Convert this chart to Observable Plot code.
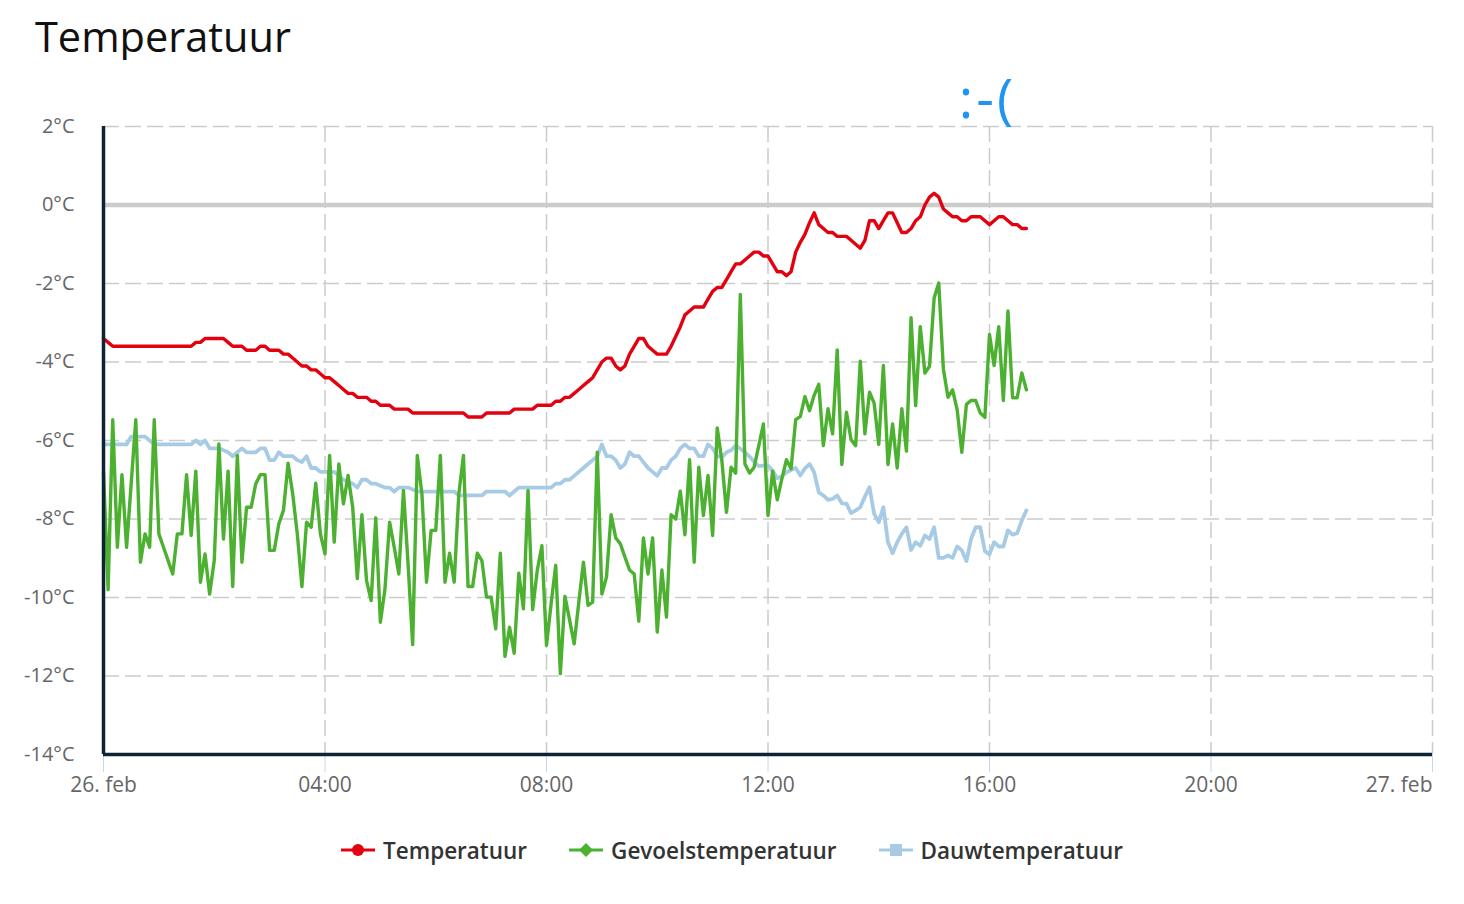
<!DOCTYPE html>
<html>
<head>
<meta charset="utf-8">
<script src="https://cdn.jsdelivr.net/npm/d3@7"></script>
<script src="https://cdn.jsdelivr.net/npm/@observablehq/plot@0.6"></script>
<style>
  html, body { margin: 0; padding: 0; background: #fff; overflow: hidden; }
  body { width: 1464px; height: 904px; position: relative; font-family: "Open Sans", Lato, sans-serif; }
  #title { position: absolute; left: 35px; top: 16px; font-size: 41.5px; line-height: 1; color: #111; font-weight: 400; }
  #chart { position: absolute; left: 0; top: 60px; }
  #legend { position: absolute; left: 0; top: 836px; width: 1464px; height: 28px; display: flex; justify-content: center; align-items: center; gap: 42px; }
  #legend .item { display: flex; align-items: center; gap: 8px; font-size: 22.5px; font-weight: 600; color: #333; }
  #legend svg { display: block; }
</style>
</head>
<body>
<div id="title">Temperatuur</div>
<div id="chart"></div>
<div id="legend"></div>
<script>
// ---- data (5-minute readings from 26 feb 00:00) ----
const seriesNames = ["Temperatuur", "Gevoelstemperatuur", "Dauwtemperatuur"];
const seriesColors = ["#e3000f", "#4cb030", "#a8cbe5"];

const temperatuur = [
  -3.4,-3.5,-3.6,-3.6,-3.6,-3.6,-3.6,-3.6,-3.6,-3.6,-3.6,-3.6,
  -3.6,-3.6,-3.6,-3.6,-3.6,-3.6,-3.6,-3.6,-3.5,-3.5,-3.4,-3.4,
  -3.4,-3.4,-3.4,-3.5,-3.6,-3.6,-3.6,-3.7,-3.7,-3.7,-3.6,-3.6,
  -3.7,-3.7,-3.7,-3.8,-3.8,-3.9,-4.0,-4.1,-4.1,-4.2,-4.2,-4.3,
  -4.4,-4.4,-4.5,-4.6,-4.7,-4.8,-4.8,-4.9,-4.9,-4.9,-5.0,-5.0,
  -5.1,-5.1,-5.1,-5.2,-5.2,-5.2,-5.2,-5.3,-5.3,-5.3,-5.3,-5.3,
  -5.3,-5.3,-5.3,-5.3,-5.3,-5.3,-5.3,-5.4,-5.4,-5.4,-5.4,-5.3,
  -5.3,-5.3,-5.3,-5.3,-5.3,-5.2,-5.2,-5.2,-5.2,-5.2,-5.1,-5.1,
  -5.1,-5.1,-5.0,-5.0,-4.9,-4.9,-4.8,-4.7,-4.6,-4.5,-4.4,-4.2,
  -4.0,-3.9,-3.9,-4.1,-4.2,-4.1,-3.8,-3.6,-3.4,-3.4,-3.6,-3.7,
  -3.8,-3.8,-3.8,-3.6,-3.35,-3.1,-2.8,-2.7,-2.6,-2.6,-2.6,-2.4,
  -2.2,-2.1,-2.1,-1.9,-1.7,-1.5,-1.5,-1.4,-1.3,-1.2,-1.2,-1.3,
  -1.3,-1.5,-1.7,-1.7,-1.8,-1.7,-1.2,-0.95,-0.75,-0.45,-0.2,-0.5,
  -0.6,-0.7,-0.7,-0.8,-0.8,-0.8,-0.9,-1.0,-1.1,-0.9,-0.4,-0.4,
  -0.6,-0.4,-0.2,-0.2,-0.45,-0.7,-0.7,-0.6,-0.4,-0.3,0.0,0.2,
  0.3,0.2,-0.1,-0.2,-0.3,-0.3,-0.4,-0.4,-0.3,-0.3,-0.3,-0.4,
  -0.5,-0.4,-0.3,-0.3,-0.4,-0.5,-0.5,-0.6,-0.6
];

const gevoelstemperatuur = [
  -6.8,-9.8,-5.47,-8.72,-6.87,-8.72,-7.1,-5.47,-9.1,-8.38,-8.72,-5.47,
  -8.38,-8.72,-9.06,-9.4,-8.38,-8.38,-6.87,-8.42,-6.78,-9.61,-8.89,-9.91,
  -9.06,-6.09,-8.51,-6.78,-9.72,-6.38,-9.1,-7.7,-7.7,-7.1,-6.87,-6.87,
  -8.8,-8.8,-8.12,-7.78,-6.58,-7.36,-8.38,-9.72,-8.08,-8.21,-7.09,-8.38,
  -8.89,-6.38,-8.59,-6.6,-7.61,-6.89,-7.7,-9.52,-7.89,-9.57,-10.08,-7.97,
  -10.63,-9.78,-8.08,-8.72,-9.4,-7.27,-9.14,-11.2,-6.38,-7.36,-9.61,-8.29,
  -8.29,-6.38,-9.61,-8.87,-9.61,-7.36,-6.38,-9.72,-9.72,-8.87,-9.06,-9.99,
  -9.99,-10.8,-8.87,-11.5,-10.76,-11.42,-9.38,-10.29,-7.27,-10.31,-9.31,-8.68,
  -11.22,-10.16,-9.18,-11.94,-9.97,-10.57,-11.18,-10.12,-9.1,-10.2,-10.12,-6.3,
  -9.91,-9.48,-7.89,-8.48,-8.63,-8.97,-9.3,-9.4,-10.6,-8.48,-9.4,-8.48,
  -10.88,-9.3,-10.5,-7.89,-8.0,-7.29,-8.4,-6.49,-9.1,-6.68,-7.91,-6.89,
  -8.42,-5.68,-6.51,-7.83,-6.68,-6.83,-2.28,-6.6,-6.83,-6.68,-6.13,-5.58,
  -7.91,-6.78,-7.51,-6.98,-6.49,-6.72,-5.47,-5.39,-4.88,-5.24,-4.85,-4.57,
  -6.13,-5.19,-5.83,-3.69,-6.61,-5.28,-5.98,-6.13,-3.98,-5.83,-4.77,-5.05,
  -6.1,-4.09,-6.61,-5.58,-6.7,-5.19,-6.27,-2.87,-5.11,-3.1,-4.28,-4.11,
  -2.37,-1.99,-4.17,-4.9,-4.71,-5.22,-6.3,-5.08,-4.98,-4.98,-5.3,-5.41,
  -3.3,-4.09,-3.1,-4.98,-2.7,-4.91,-4.91,-4.28,-4.71
];

const dauwtemperatuur = [
  -6.1,-6.1,-6.1,-6.1,-6.1,-6.1,-5.9,-5.9,-5.9,-5.9,-6.0,-6.1,
  -6.1,-6.1,-6.1,-6.1,-6.1,-6.1,-6.1,-6.1,-6.0,-6.1,-6.0,-6.2,
  -6.2,-6.2,-6.25,-6.3,-6.4,-6.3,-6.2,-6.3,-6.3,-6.3,-6.2,-6.2,
  -6.5,-6.5,-6.3,-6.4,-6.4,-6.4,-6.5,-6.55,-6.4,-6.7,-6.7,-6.8,
  -6.8,-6.8,-6.8,-6.9,-7.0,-7.05,-7.1,-7.2,-7.0,-7.0,-7.1,-7.1,
  -7.15,-7.2,-7.2,-7.3,-7.2,-7.2,-7.2,-7.25,-7.3,-7.3,-7.3,-7.3,
  -7.3,-7.3,-7.3,-7.3,-7.3,-7.4,-7.4,-7.4,-7.4,-7.4,-7.4,-7.3,
  -7.3,-7.3,-7.3,-7.3,-7.4,-7.3,-7.2,-7.2,-7.2,-7.2,-7.2,-7.2,
  -7.2,-7.2,-7.1,-7.1,-7.0,-7.0,-6.9,-6.8,-6.7,-6.6,-6.5,-6.4,
  -6.1,-6.4,-6.4,-6.5,-6.7,-6.6,-6.3,-6.4,-6.4,-6.55,-6.7,-6.8,
  -6.9,-6.7,-6.7,-6.5,-6.4,-6.2,-6.1,-6.2,-6.2,-6.4,-6.4,-6.1,
  -6.2,-6.4,-6.43,-6.3,-6.25,-6.13,-6.21,-6.3,-6.41,-6.55,-6.65,-6.64,
  -6.64,-6.77,-6.96,-6.91,-6.81,-6.75,-6.7,-6.89,-6.71,-6.6,-6.81,-7.32,
  -7.4,-7.51,-7.49,-7.4,-7.6,-7.61,-7.85,-7.78,-7.7,-7.43,-7.19,-7.87,
  -8.08,-7.7,-8.59,-8.87,-8.59,-8.38,-8.21,-8.79,-8.59,-8.68,-8.42,-8.51,
  -8.21,-8.99,-8.99,-8.93,-8.99,-8.7,-8.8,-9.07,-8.51,-8.21,-8.21,-8.82,
  -8.9,-8.59,-8.7,-8.7,-8.29,-8.4,-8.36,-8.04,-7.78
];

const xTickHours = [0, 4, 8, 12, 16, 20, 24];
const xTickLabels = ["26. feb", "04:00", "08:00", "12:00", "16:00", "20:00", "27. feb"];
const yTicks = [2, 0, -2, -4, -6, -8, -10, -12, -14];
const annotationHour = 16;
const annotationText = ":-(";

// ---- build ----
const start = new Date(Date.UTC(2024, 1, 26, 0, 0));
const hourMs = 3600 * 1000;
const stepMs = 5 * 60 * 1000;
const atHour = h => new Date(start.getTime() + h * hourMs);
const xTickDates = xTickHours.map(atHour);
const end = xTickDates[xTickDates.length - 1];
const toRows = (vals, name) => vals.map((v, i) => ({t: new Date(start.getTime() + i * stepMs), v, name}));
const labelFor = d => xTickLabels[xTickDates.findIndex(t => +t === +d)];

const rowsTemp = toRows(temperatuur, seriesNames[0]);
const rowsFeel = toRows(gevoelstemperatuur, seriesNames[1]);
const rowsDew = toRows(dauwtemperatuur, seriesNames[2]);

const axisColor = "#0e2434";
const gridStyle = {stroke: "#cccccc", strokeOpacity: 1, strokeDasharray: "16,6", strokeWidth: 1.5};
const xAxisStyle = {tickSize: 18, tickPadding: 5, stroke: "#ccd6eb", fill: "#666", fontSize: 21, tickFormat: labelFor, label: null};
const lineStyle = {x: "t", y: "v", strokeWidth: 3.4, strokeLinejoin: "round", strokeLinecap: "round"};

const chart = Plot.plot({
  width: 1464,
  height: 750,
  marginTop: 66,
  marginBottom: 56,
  marginLeft: 103,
  marginRight: 32,
  style: {fontFamily: "'Open Sans', Lato, sans-serif", fontSize: "20px", background: "white", overflow: "visible", color: "#666"},
  x: {type: "utc", domain: [start, end]},
  y: {domain: [-14, 2]},
  marks: [
    Plot.gridY(yTicks.filter(d => d !== 0), gridStyle),
    Plot.gridX(xTickDates, gridStyle),
    Plot.ruleY([0], {stroke: "#cccccc", strokeWidth: 4.5}),
    Plot.axisY(yTicks, {tickSize: 0, tickPadding: 29, tickFormat: d => `${d}°C`, fill: "#666", fontSize: 20, label: null}),
    Plot.axisX(xTickDates.slice(0, -1), xAxisStyle),
    Plot.axisX([end], {...xAxisStyle, textAnchor: "end"}),
    Plot.line(rowsDew, {...lineStyle, stroke: seriesColors[2], strokeWidth: 3.8}),
    Plot.line(rowsFeel, {...lineStyle, stroke: seriesColors[1]}),
    Plot.line(rowsTemp, {...lineStyle, stroke: seriesColors[0]}),
    Plot.ruleX([start], {stroke: axisColor, strokeWidth: 3.5}),
    Plot.ruleY([-14], {stroke: axisColor, strokeWidth: 3.5}),
    Plot.text([{t: atHour(annotationHour), y: 2, label: annotationText}], {
      x: "t", y: "y", text: "label", fill: "#1e95f2", fontSize: 55, lineAnchor: "bottom", dy: -9, dx: -2
    })
  ]
});
document.getElementById("chart").appendChild(chart);
d3.select(chart).selectAll("text").filter(function() { return this.textContent === annotationText; })
  .style("letter-spacing", "3px");

// ---- legend ----
const legend = d3.select("#legend");
const symbols = ["circle", "diamond", "square"];
seriesNames.forEach((name, i) => {
  const item = legend.append("span").attr("class", "item");
  const s = item.append("svg").attr("width", 34).attr("height", 20);
  s.append("line").attr("x1", 0).attr("x2", 34).attr("y1", 10).attr("y2", 10)
    .attr("stroke", seriesColors[i]).attr("stroke-width", 3);
  if (symbols[i] === "circle") {
    s.append("circle").attr("cx", 17).attr("cy", 10).attr("r", 6).attr("fill", seriesColors[i]);
  } else if (symbols[i] === "diamond") {
    s.append("path").attr("d", "M17,3 L24,10 L17,17 L10,10 Z").attr("fill", seriesColors[i]);
  } else {
    s.append("rect").attr("x", 11).attr("y", 4).attr("width", 12).attr("height", 12).attr("fill", seriesColors[i]);
  }
  item.append("span").text(name);
});
</script>
</body>
</html>
